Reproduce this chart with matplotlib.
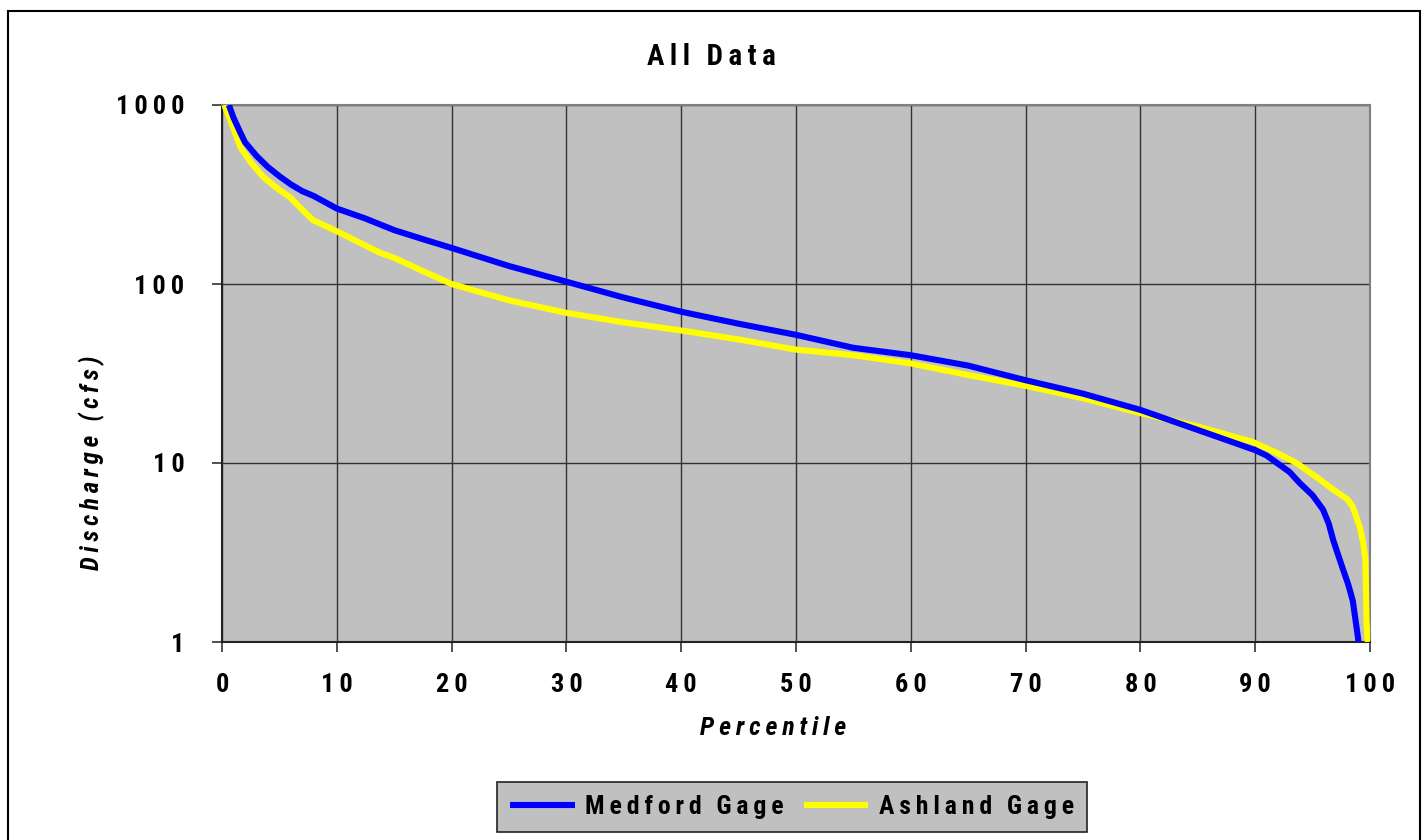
import matplotlib
matplotlib.use("Agg")
import matplotlib.pyplot as plt
from matplotlib.patches import Rectangle
from matplotlib.ticker import NullLocator

# ---- data ----
medford_pct = [0.6, 1.0, 1.6, 2.0, 3.0, 4.0, 5.0, 6.0, 7.0, 8.0, 10.0, 12.5, 15.0, 17.5, 20.0,
               25.0, 30.0, 35.0, 40.0, 45.0, 50.0, 55.0, 60.0, 65.0, 70.0, 75.0, 80.0, 85.0,
               90.0, 91.0, 91.9, 93.0, 93.9, 95.0, 95.9, 96.4, 96.8, 97.2, 97.6, 98.1, 98.5,
               98.9, 99.0]
medford_q = [1000, 850, 700, 620, 520, 450, 400, 360, 330, 310, 264, 232, 200, 178, 159,
             126, 103, 84, 70, 60, 52, 44, 40, 35, 29, 24.4, 19.8, 15.3,
             11.8, 11.0, 10.0, 8.9, 7.7, 6.6, 5.5, 4.6, 3.7, 3.1, 2.6, 2.1, 1.7,
             1.12, 1.0]

ashland_pct = [0.2, 0.8, 1.6, 2.5, 3.6, 5.0, 5.9, 7.0, 7.9, 10.3, 12.0, 13.8, 15.0, 17.5, 20.0,
               25.0, 30.0, 35.0, 40.0, 45.0, 50.0, 55.0, 60.0, 65.0, 70.0, 75.0, 80.0, 85.0,
               89.8, 92.0, 93.6, 95.5, 96.8, 98.0, 98.5, 99.1, 99.4, 99.6, 99.7, 99.8]
ashland_q = [1000, 800, 582, 480, 396, 335, 306, 260, 228, 193, 170, 149, 140, 118, 100,
             81, 69, 61, 55, 49, 43, 40, 36, 31, 27, 23, 19, 16,
             13.1, 11.3, 10.0, 8.2, 7.1, 6.3, 5.7, 4.4, 3.6, 2.9, 1.3, 1.0]

x_ticks = [0, 10, 20, 30, 40, 50, 60, 70, 80, 90, 100]
y_ticks = [1, 10, 100, 1000]
series_names = ["Medford Gage", "Ashland Gage"]

plt.rcParams['font.family'] = ['Roboto Condensed', 'DejaVu Sans']

GAP = "\u2009"


def sp(s):
    return GAP.join(s.replace(" ", "\u2009"))


W, H = 1428, 840
fig = plt.figure(figsize=(W / 100, H / 100), dpi=100)
fig.patch.set_facecolor("white")

# outer border
fig.patches.append(Rectangle((8 / W, -0.05), (1420 - 8) / W, 1.05 - 11 / H,
                             transform=fig.transFigure, fill=False,
                             edgecolor="black", linewidth=1.5))

ax = fig.add_axes([222 / W, 1 - 642 / H, (1370 - 222) / W, (642 - 105) / H])
ax.set_facecolor("#C0C0C0")
ax.set_yscale("log")
ax.set_xlim(0, 100)
ax.set_ylim(1, 1000)

ax.plot(ashland_pct, ashland_q, color="#FFFF00", lw=4.4, label=sp(series_names[1]),
        solid_capstyle="butt", zorder=3)
ax.plot(medford_pct, medford_q, color="#0000FF", lw=4.4, label=sp(series_names[0]),
        solid_capstyle="butt", zorder=4)

ax.set_xticks(x_ticks)
ax.set_xticklabels([sp(str(v)) for v in x_ticks])
ax.set_yticks(y_ticks)
ax.set_yticklabels([sp(str(v)) for v in y_ticks])
ax.yaxis.set_minor_locator(NullLocator())
ax.grid(True, which="major", color="#333333", linewidth=1.0)
ax.set_axisbelow(True)
ax.tick_params(axis="both", direction="out", length=7, width=1.2, color="#333333",
               labelsize=19)
for lab in ax.get_xticklabels() + ax.get_yticklabels():
    lab.set_fontweight("bold")
ax.tick_params(axis="x", pad=15)
ax.tick_params(axis="y", pad=20)

for side in ("top", "right"):
    ax.spines[side].set_color("#808080")
    ax.spines[side].set_linewidth(1.5)
for side in ("left", "bottom"):
    ax.spines[side].set_color("#222222")
    ax.spines[side].set_linewidth(1.5)

fig.text(711 / W, 1 - 57 / H, sp("All Data"), ha="center", va="center",
         fontsize=21, fontweight="bold")
fig.text(773 / W, 1 - 728 / H, sp("Percentile"), ha="center", va="center",
         fontsize=18.5, fontweight="bold", style="italic")
fig.text(92 / W, 1 - 463 / H, sp("Discharge (cfs)"), ha="center", va="center",
         fontsize=18, fontweight="bold", style="italic", rotation=90)

h, l = ax.get_legend_handles_labels()
leg = fig.legend([h[1], h[0]], [l[1], l[0]], loc="center",
                 bbox_to_anchor=(792 / W, 1 - 807 / H), ncol=2, frameon=True,
                 fancybox=False, shadow=False, handlelength=2.5,
                 handletextpad=0.4, columnspacing=0.8, borderpad=0.5,
                 borderaxespad=0.0,
                 prop={"weight": "bold", "size": 18.5})
leg.get_frame().set_facecolor("#C0C0C0")
leg.get_frame().set_edgecolor("#222222")
leg.get_frame().set_linewidth(1.2)
leg.get_frame().set_alpha(1)

fig.savefig("out.png", dpi=100)
